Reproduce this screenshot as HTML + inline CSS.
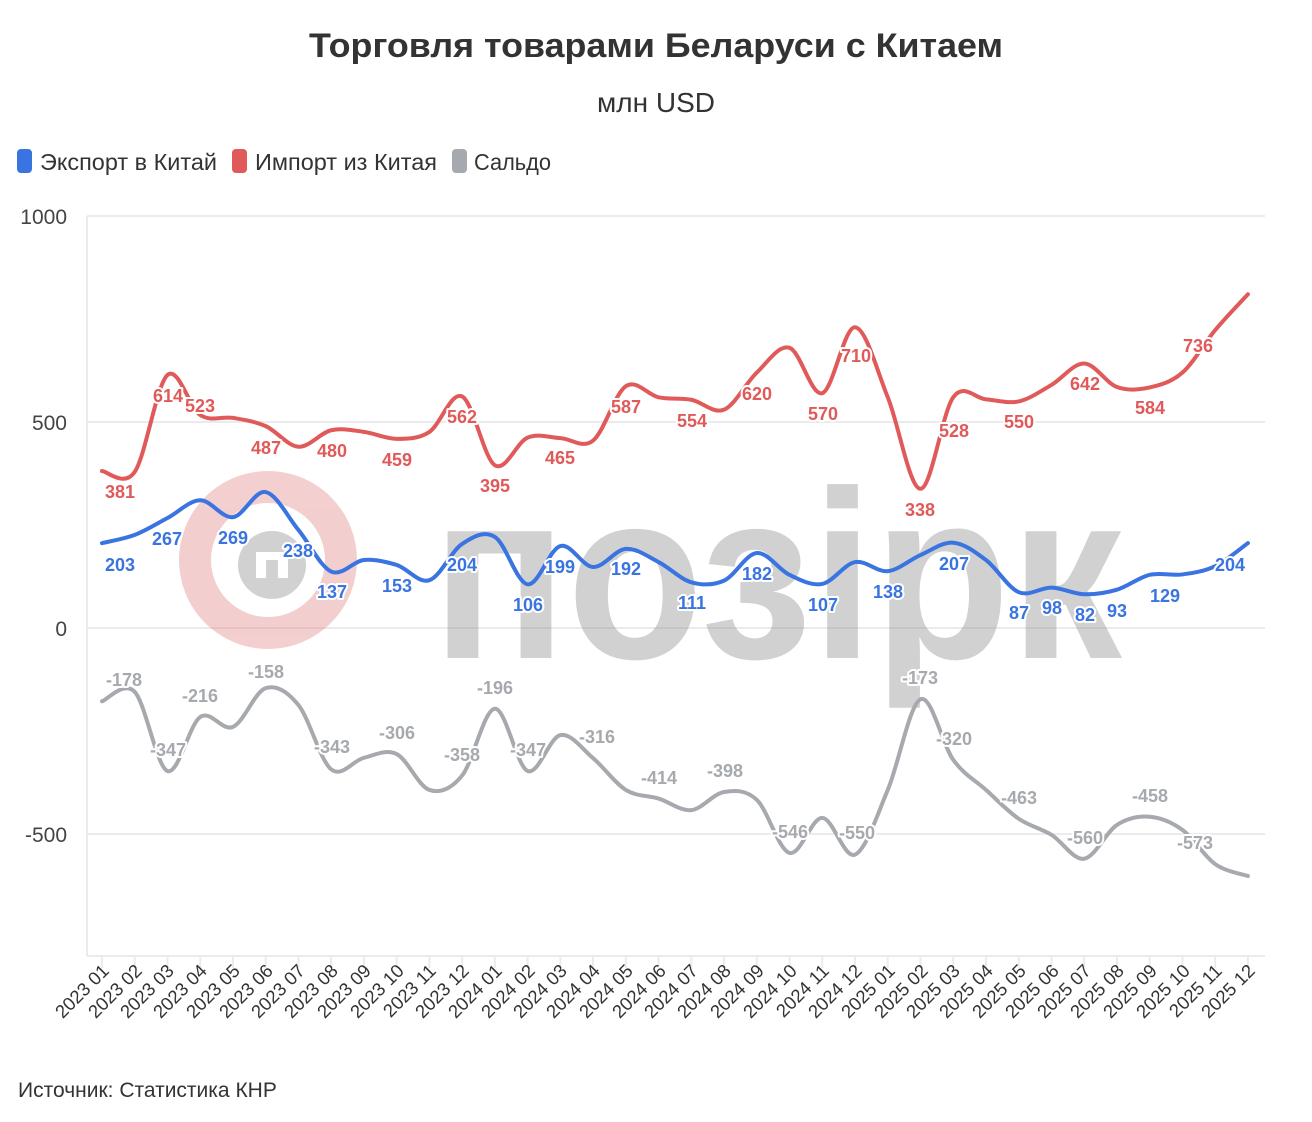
<!DOCTYPE html>
<html><head><meta charset="utf-8"><style>
html,body{margin:0;padding:0;background:#fff;}
svg{display:block;font-family:"Liberation Sans",sans-serif;}
.l{font-weight:bold;font-size:18px;text-anchor:middle;paint-order:stroke;stroke:#fff;stroke-width:4px;stroke-linejoin:round;}
.r{fill:#e05a5a}.b{fill:#3a74e0}.g{fill:#a6a9ad}
.xt{font-size:18.5px;fill:#333;text-anchor:end;}
.yt{font-size:21px;fill:#444;text-anchor:end;}
</style></head><body>
<svg id="s" width="1312" height="1122" viewBox="0 0 1312 1122">
<text x="656" y="57" text-anchor="middle" font-size="34" font-weight="bold" fill="#333" textLength="694" lengthAdjust="spacingAndGlyphs">Торговля товарами Беларуси с Китаем</text>
<text x="656" y="112" text-anchor="middle" font-size="28" fill="#333">млн USD</text>
<rect x="17" y="149" width="15" height="24" rx="4" fill="#3a74e0"/>
<text x="40" y="170" font-size="23" fill="#333" textLength="177" lengthAdjust="spacingAndGlyphs">Экспорт в Китай</text>
<rect x="232" y="149" width="15" height="24" rx="4" fill="#e05a5a"/>
<text x="255" y="170" font-size="23" fill="#333" textLength="182" lengthAdjust="spacingAndGlyphs">Импорт из Китая</text>
<rect x="452" y="149" width="15" height="24" rx="4" fill="#a6a9ad"/>
<text x="474" y="170" font-size="23" fill="#333" textLength="77" lengthAdjust="spacingAndGlyphs">Сальдо</text>
<g stroke="#ebebeb" stroke-width="2">
<line x1="87" y1="216" x2="1265" y2="216"/><line x1="87" y1="422" x2="1265" y2="422"/>
<line x1="87" y1="628" x2="1265" y2="628"/><line x1="87" y1="834" x2="1265" y2="834"/>
<line x1="87" y1="956" x2="1265" y2="956"/><line x1="87" y1="216" x2="87" y2="956"/>
</g>
<g id="ticks" stroke="#ebebeb" stroke-width="2"></g>
<text class="yt" x="67" y="224">1000</text><text class="yt" x="67" y="430">500</text>
<text class="yt" x="67" y="636">0</text><text class="yt" x="67" y="842">-500</text>
<!-- watermark -->
<g opacity="0.38">
<circle cx="268" cy="560" r="73" fill="none" stroke="#e08080" stroke-width="32"/>
<circle cx="272" cy="565" r="34" fill="#888"/>
<rect x="256" y="552" width="32" height="26" fill="#fff"/>
<rect x="266" y="560" width="12" height="18" fill="#888"/>
<text x="432" y="658" font-size="240" font-weight="bold" fill="#888" textLength="690" lengthAdjust="spacingAndGlyphs">позірк</text>
</g>
<g fill="none" stroke-width="4" stroke-linecap="round">
<path id="pr" stroke="#e05a5a"/><path id="pb" stroke="#3a74e0"/><path id="pg" stroke="#a6a9ad"/>
</g>
<g class="l r">
<text x="120" y="498">381</text><text x="168" y="402">614</text><text x="200" y="412">523</text><text x="266" y="454">487</text><text x="332" y="457">480</text><text x="397" y="466">459</text><text x="462" y="423">562</text><text x="495" y="492">395</text><text x="560" y="464">465</text><text x="626" y="413">587</text><text x="692" y="427">554</text><text x="757" y="400">620</text><text x="823" y="420">570</text><text x="856" y="362">710</text><text x="920" y="516">338</text><text x="954" y="437">528</text><text x="1019" y="428">550</text><text x="1085" y="390">642</text><text x="1150" y="414">584</text><text x="1198" y="352">736</text>
</g>
<g class="l b">
<text x="120" y="571">203</text><text x="167" y="545">267</text><text x="233" y="544">269</text><text x="298" y="557">238</text><text x="332" y="598">137</text><text x="397" y="592">153</text><text x="462" y="571">204</text><text x="528" y="611">106</text><text x="560" y="573">199</text><text x="626" y="575">192</text><text x="692" y="609">111</text><text x="757" y="580">182</text><text x="823" y="611">107</text><text x="888" y="598">138</text><text x="954" y="570">207</text><text x="1019" y="619">87</text><text x="1052" y="614">98</text><text x="1085" y="621">82</text><text x="1117" y="617">93</text><text x="1165" y="602">129</text><text x="1230" y="571">204</text>
</g>
<g class="l g">
<text x="124" y="686">-178</text><text x="168" y="756">-347</text><text x="200" y="702">-216</text><text x="266" y="678">-158</text><text x="332" y="753">-343</text><text x="397" y="739">-306</text><text x="462" y="761">-358</text><text x="495" y="694">-196</text><text x="528" y="756">-347</text><text x="597" y="743">-316</text><text x="659" y="784">-414</text><text x="725" y="777">-398</text><text x="790" y="838">-546</text><text x="857" y="839">-550</text><text x="920" y="684">-173</text><text x="954" y="745">-320</text><text x="1019" y="804">-463</text><text x="1085" y="844">-560</text><text x="1150" y="802">-458</text><text x="1195" y="849">-573</text>
</g>
<g id="xl">
<text class="xt" transform="translate(110,972) rotate(-45)">2023 01</text><text class="xt" transform="translate(143,972) rotate(-45)">2023 02</text><text class="xt" transform="translate(175,972) rotate(-45)">2023 03</text><text class="xt" transform="translate(208,972) rotate(-45)">2023 04</text><text class="xt" transform="translate(241,972) rotate(-45)">2023 05</text><text class="xt" transform="translate(274,972) rotate(-45)">2023 06</text><text class="xt" transform="translate(306,972) rotate(-45)">2023 07</text><text class="xt" transform="translate(339,972) rotate(-45)">2023 08</text><text class="xt" transform="translate(372,972) rotate(-45)">2023 09</text><text class="xt" transform="translate(405,972) rotate(-45)">2023 10</text><text class="xt" transform="translate(437,972) rotate(-45)">2023 11</text><text class="xt" transform="translate(470,972) rotate(-45)">2023 12</text>
<text class="xt" transform="translate(503,972) rotate(-45)">2024 01</text><text class="xt" transform="translate(536,972) rotate(-45)">2024 02</text><text class="xt" transform="translate(568,972) rotate(-45)">2024 03</text><text class="xt" transform="translate(601,972) rotate(-45)">2024 04</text><text class="xt" transform="translate(634,972) rotate(-45)">2024 05</text><text class="xt" transform="translate(667,972) rotate(-45)">2024 06</text><text class="xt" transform="translate(699,972) rotate(-45)">2024 07</text><text class="xt" transform="translate(732,972) rotate(-45)">2024 08</text><text class="xt" transform="translate(765,972) rotate(-45)">2024 09</text><text class="xt" transform="translate(798,972) rotate(-45)">2024 10</text><text class="xt" transform="translate(830,972) rotate(-45)">2024 11</text><text class="xt" transform="translate(863,972) rotate(-45)">2024 12</text>
<text class="xt" transform="translate(896,972) rotate(-45)">2025 01</text><text class="xt" transform="translate(929,972) rotate(-45)">2025 02</text><text class="xt" transform="translate(961,972) rotate(-45)">2025 03</text><text class="xt" transform="translate(994,972) rotate(-45)">2025 04</text><text class="xt" transform="translate(1027,972) rotate(-45)">2025 05</text><text class="xt" transform="translate(1060,972) rotate(-45)">2025 06</text><text class="xt" transform="translate(1092,972) rotate(-45)">2025 07</text><text class="xt" transform="translate(1125,972) rotate(-45)">2025 08</text><text class="xt" transform="translate(1158,972) rotate(-45)">2025 09</text><text class="xt" transform="translate(1191,972) rotate(-45)">2025 10</text><text class="xt" transform="translate(1223,972) rotate(-45)">2025 11</text><text class="xt" transform="translate(1256,972) rotate(-45)">2025 12</text>
</g>
<text x="18" y="1097" font-size="21" fill="#333">Источник: Статистика КНР</text>
</svg>
<script>
var imp=[381,379,614,517,510,490,440,480,476,459,476,562,395,462,461,455,587,560,554,530,620,680,570,730,560,338,560,555,550,590,642,585,584,620,723,810];
var exp=[206,226,267,310,269,330,238,137,165,153,116,204,221,106,199,148,192,160,111,115,182,129,107,160,138,177,207,165,87,98,82,93,129,130,150,206];
var sal=[-178,-155,-347,-216,-240,-146,-187,-343,-315,-306,-393,-358,-196,-347,-260,-316,-393,-414,-442,-398,-417,-546,-461,-550,-393,-173,-320,-393,-463,-502,-560,-478,-458,-490,-573,-602];
function X(i){return 102+32.74*i}function Y(v){return 628-0.412*v}
function path(d){var p=d.map(function(v,i){return [X(i),Y(v)]});var s="M"+p[0][0]+","+p[0][1];
for(var i=0;i<p.length-1;i++){var p0=p[i-1]||p[i],p1=p[i],p2=p[i+1],p3=p[i+2]||p2,t=6;
s+=" C"+(p1[0]+(p2[0]-p0[0])/t)+","+(p1[1]+(p2[1]-p0[1])/t)+" "+(p2[0]-(p3[0]-p1[0])/t)+","+(p2[1]-(p3[1]-p1[1])/t)+" "+p2[0]+","+p2[1];}return s;}
document.getElementById("pr").setAttribute("d",path(imp));
document.getElementById("pb").setAttribute("d",path(exp));
document.getElementById("pg").setAttribute("d",path(sal));
var tk="";for(var i=0;i<36;i++){tk+='<line x1="'+X(i)+'" y1="956" x2="'+X(i)+'" y2="968"/>';}
document.getElementById("ticks").innerHTML=tk;
</script>
</body></html>
